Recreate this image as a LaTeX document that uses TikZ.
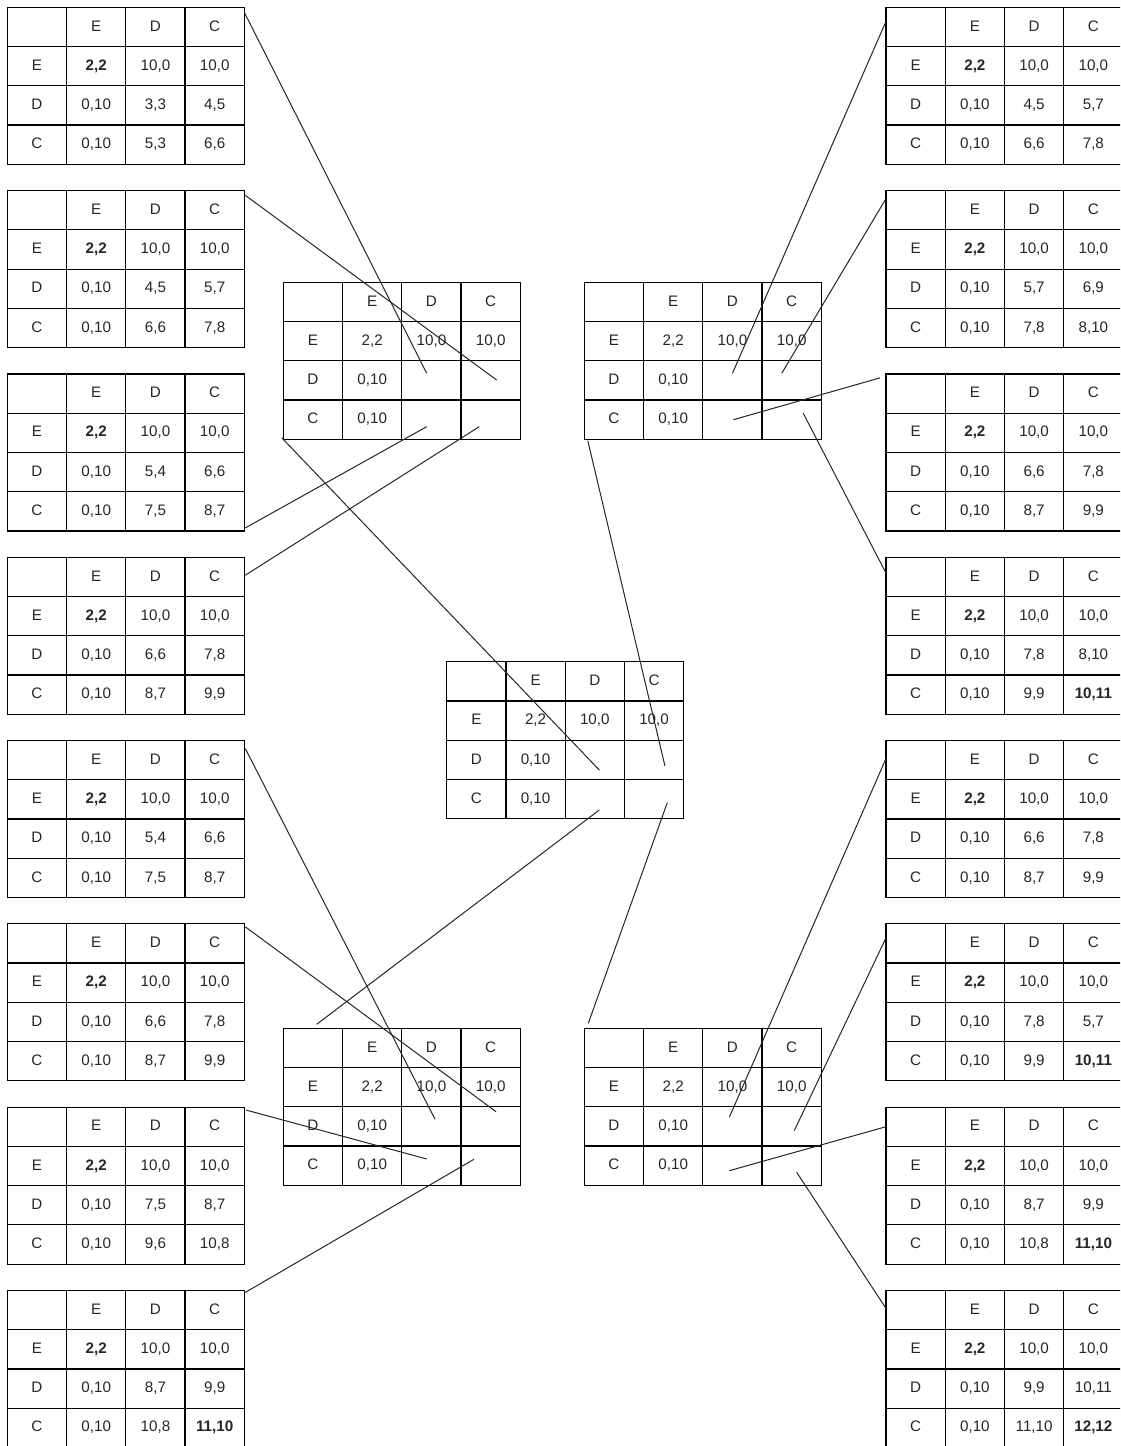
\documentclass[tikz,border=0pt]{standalone}
\usepackage{fontspec}
\setmainfont{Liberation Sans}
\usetikzlibrary{calc}
\tikzset{
  tbl/.style={draw, line width=1.2pt, minimum width=237pt, minimum height=157pt, anchor=north west, inner sep=0pt, outer sep=0pt},
  gridl/.style={line width=1.2pt},
  cell/.style={inner sep=0pt, text height=11pt, text depth=2.6pt, font=\fontsize{15.2}{17}\selectfont, text=black!85},
  link/.style={line width=1pt, black!85},
}
% #1 name, #2 x, #3 y, #4 E-row first value, #5 D/D, #6 D/C, #7 C/D, #8 C/C
\newcommand{\gtab}[8]{%
  \node[tbl] (#1) at (#2,#3) {};
  \foreach \i in {1,2,3} {
    \draw[gridl] (#2+59.25*\i,#3) -- (#2+59.25*\i,#3+157);
    \draw[gridl] (#2,#3+39.25*\i) -- (#2+237,#3+39.25*\i);
  }
  \node[cell] (#1-hE) at (#2+88.875,#3+19.625) {E};
  \node[cell] (#1-hD) at (#2+148.125,#3+19.625) {D};
  \node[cell] (#1-hC) at (#2+207.375,#3+19.625) {C};
  \node[cell] (#1-rE) at (#2+29.625,#3+58.875) {E};
  \node[cell] (#1-rD) at (#2+29.625,#3+98.125) {D};
  \node[cell] (#1-rC) at (#2+29.625,#3+137.375) {C};
  \node[cell] (#1-EE) at (#2+88.875,#3+58.875) {#4};
  \node[cell] (#1-ED) at (#2+148.125,#3+58.875) {10,0};
  \node[cell] (#1-EC) at (#2+207.375,#3+58.875) {10,0};
  \node[cell] (#1-DE) at (#2+88.875,#3+98.125) {0,10};
  \node[cell] (#1-DD) at (#2+148.125,#3+98.125) {#5};
  \node[cell] (#1-DC) at (#2+207.375,#3+98.125) {#6};
  \node[cell] (#1-CE) at (#2+88.875,#3+137.375) {0,10};
  \node[cell] (#1-CD) at (#2+148.125,#3+137.375) {#7};
  \node[cell] (#1-CC) at (#2+207.375,#3+137.375) {#8};
}
\begin{document}
\begin{tikzpicture}[x=1pt,y=-1pt]
\clip (0,0) rectangle (1120,1446);
\fill[white] (0,0) rectangle (1120,1446);
% left column
\gtab{L1}{7.3}{7.3}{\textbf{2,2}}{3,3}{4,5}{5,3}{6,6}
\gtab{L2}{7.3}{190.6}{\textbf{2,2}}{4,5}{5,7}{6,6}{7,8}
\gtab{L3}{7.3}{373.9}{\textbf{2,2}}{5,4}{6,6}{7,5}{8,7}
\gtab{L4}{7.3}{557.2}{\textbf{2,2}}{6,6}{7,8}{8,7}{9,9}
\gtab{L5}{7.3}{740.5}{\textbf{2,2}}{5,4}{6,6}{7,5}{8,7}
\gtab{L6}{7.3}{923.8}{\textbf{2,2}}{6,6}{7,8}{8,7}{9,9}
\gtab{L7}{7.3}{1107.1}{\textbf{2,2}}{7,5}{8,7}{9,6}{10,8}
\gtab{L8}{7.3}{1290.4}{\textbf{2,2}}{8,7}{9,9}{10,8}{\textbf{11,10}}
% right column
\gtab{R1}{886}{7.3}{\textbf{2,2}}{4,5}{5,7}{6,6}{7,8}
\gtab{R2}{886}{190.6}{\textbf{2,2}}{5,7}{6,9}{7,8}{8,10}
\gtab{R3}{886}{373.9}{\textbf{2,2}}{6,6}{7,8}{8,7}{9,9}
\gtab{R4}{886}{557.2}{\textbf{2,2}}{7,8}{8,10}{9,9}{\textbf{10,11}}
\gtab{R5}{886}{740.5}{\textbf{2,2}}{6,6}{7,8}{8,7}{9,9}
\gtab{R6}{886}{923.8}{\textbf{2,2}}{7,8}{5,7}{9,9}{\textbf{10,11}}
\gtab{R7}{886}{1107.1}{\textbf{2,2}}{8,7}{9,9}{10,8}{\textbf{11,10}}
\gtab{R8}{886}{1290.4}{\textbf{2,2}}{9,9}{10,11}{11,10}{\textbf{12,12}}
% middle tables
\gtab{ML}{283.3}{282.3}{2,2}{}{}{}{}
\gtab{MR}{584.3}{282.3}{2,2}{}{}{}{}
\gtab{C}{446.7}{661.7}{2,2}{}{}{}{}
\gtab{BML}{283.3}{1028.3}{2,2}{}{}{}{}
\gtab{BMR}{584.3}{1028.3}{2,2}{}{}{}{}
% connectors: upper left
\draw[link] ($(L1.north east)+(0,5)$) -- ($(ML-DD)+(-4.7,-7.1)$);
\draw[link] ($(L2.north east)+(0,4)$) -- ($(ML-DC)+(6,-0.4)$);
\draw[link] ($(L3.south east)+(1,-3)$) -- ($(ML-CD)+(-4.7,7)$);
\draw[link] ($(L4.north east)+(1,18)$) -- ($(ML-CC)+(-11.4,7)$);
% upper right
\draw[link] ($(R1.north west)+(0,14)$) -- ($(MR-DD)+(0,-7)$);
\draw[link] ($(R2.north west)+(0,8)$) -- ($(MR-DC)+(-10,-7)$);
\draw[link] ($(R3.north west)+(-6,4)$) -- ($(MR-CD)+(1,0)$);
\draw[link] ($(R4.north west)+(0,16)$) -- ($(MR-CC)+(11.6,-6.4)$);
% center
\draw[link] ($(ML.south west)+(-1.5,-1.5)$) -- ($(C-DD)+(4.5,10.2)$);
\draw[link] ($(MR.south west)+(3.5,1.5)$) -- ($(C-DC)+(10.9,6.2)$);
\draw[link] ($(C-CD)+(4.5,10.9)$) -- ($(BML.north west)+(33.4,-4)$);
\draw[link] ($(C-CC)+(13.2,3.6)$) -- ($(BMR.north west)+(4,-5)$);
% lower left
\draw[link] ($(L5.north east)+(1,8)$) -- ($(BML-DD)+(3.6,-7.2)$);
\draw[link] ($(L6.north east)+(1,3)$) -- ($(BML-DC)+(5.3,-14.8)$);
\draw[link] ($(L7.north east)+(2,3)$) -- ($(BML-CD)+(-4.7,-6.7)$);
\draw[link] ($(L8.north east)+(1,2)$) -- ($(BML-CC)+(-16.7,-6.4)$);
% lower right
\draw[link] ($(R5.north west)+(0,18)$) -- ($(BMR-DD)+(-3.1,-9.2)$);
\draw[link] ($(R6.north west)+(0,14)$) -- ($(BMR-DC)+(2.6,4.2)$);
\draw[link] ($(R7.north west)+(0,19.6)$) -- ($(BMR-CD)+(-3.1,5)$);
\draw[link] ($(R8.north west)+(0,18)$) -- ($(BMR-CC)+(5,6.6)$);
\end{tikzpicture}
\end{document}
